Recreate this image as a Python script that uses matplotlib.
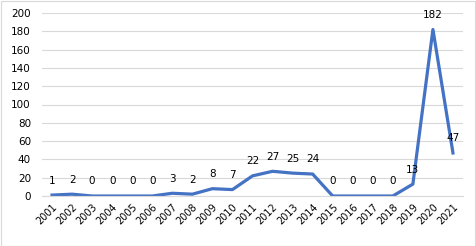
import matplotlib
matplotlib.use("Agg")
import matplotlib.pyplot as plt
from matplotlib.patches import Rectangle

years = [str(y) for y in range(2001, 2022)]
values = [1, 2, 0, 0, 0, 0, 3, 2, 8, 7, 22, 27, 25, 24, 0, 0, 0, 0, 13, 182, 47]
yticks = list(range(0, 201, 20))

fig = plt.figure(figsize=(4.76, 2.46), dpi=100)
ax = fig.add_axes([42/476, 1 - 196/246, (463-42)/476, (196-13)/246])
x = list(range(len(years)))
ax.plot(x, values, color="#4472C4", lw=2.3, solid_joinstyle="round")
for xi, v in zip(x, values):
    ax.annotate(str(v), (xi, v), xytext=(0, 10.5), textcoords="offset points",
                ha="center", va="center", fontsize=7.5, color="#000000")
ax.set_xlim(-0.5, len(years) - 0.5)
ax.set_ylim(0, 200)
ax.set_yticks(yticks)
ax.set_xticks(x)
ax.set_xticklabels(years, rotation=45, ha="right", rotation_mode="anchor", fontsize=7)
ax.tick_params(axis="y", labelsize=7.5, length=0, pad=8)
ax.tick_params(axis="x", length=0, pad=4)
ax.grid(axis="y", color="#D9D9D9", lw=0.8)
ax.set_axisbelow(True)
for s in ["top", "right", "left"]:
    ax.spines[s].set_visible(False)
ax.spines["bottom"].set_color("#D9D9D9")
fig.patches.append(Rectangle((0.5/476, 0.5/246), 1 - 1.5/476, 1 - 1.5/246, transform=fig.transFigure,
                             fill=False, edgecolor="#D9D9D9", lw=0.8))
fig.savefig("out.png", dpi=100)
